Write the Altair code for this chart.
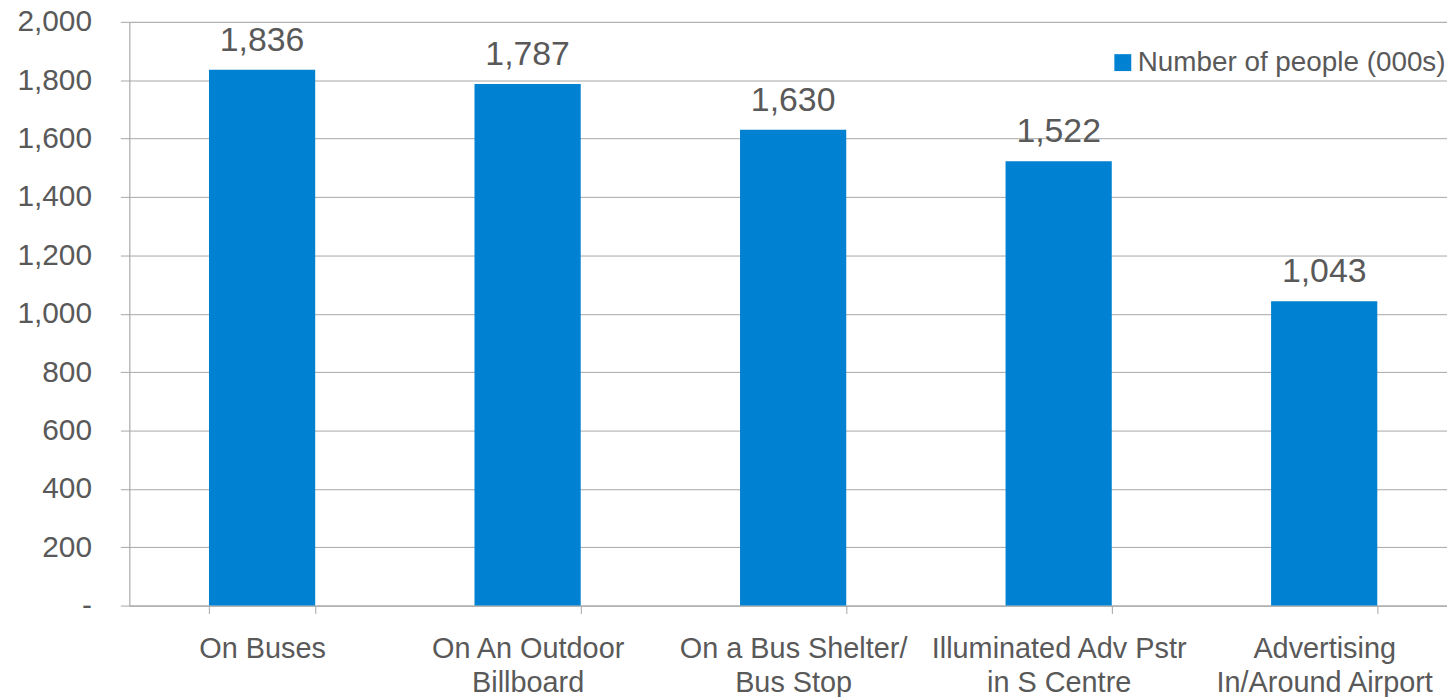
import altair as alt
import pandas as pd

categories = [
    "On Buses",
    "On An Outdoor\nBillboard",
    "On a Bus Shelter/\nBus Stop",
    "Illuminated Adv Pstr\nin S Centre",
    "Advertising\nIn/Around Airport",
]
values = [1836, 1787, 1630, 1522, 1043]
series_name = "Number of people (000s)"
y_ticks = [0, 200, 400, 600, 800, 1000, 1200, 1400, 1600, 1800, 2000]

df = pd.DataFrame({"category": categories, "value": values, "series": [series_name] * len(values)})

FONT = "Liberation Sans"
TXT = "#595959"
GRID = "#A6A6A6"
BLUE = "#0081D1"

x_scale = alt.Scale(paddingInner=0.6, paddingOuter=0.3)

x_enc = alt.X(
    "category:N",
    sort=None,
    title=None,
    scale=x_scale,
    axis=alt.Axis(
        labelAngle=0,
        labelExpr="split(datum.label, '\\n')",
        labelFont=FONT,
        labelFontSize=29,
        labelColor=TXT,
        labelLineHeight=34,
        labelPadding=21,
        labelBaseline="top",
        tickBand="extent",
        tickSize=8,
        tickColor=GRID,
        domainColor=GRID,
        grid=False,
        labelLimit=400,
    ),
)

y_enc = alt.Y(
    "value:Q",
    title=None,
    scale=alt.Scale(domain=[0, 2000], nice=False),
    axis=alt.Axis(
        values=y_ticks,
        labelExpr="datum.value == 0 ? '-\u00a0\u00a0' : format(datum.value, ',')",
        labelFont=FONT,
        labelFontSize=30,
        labelColor=TXT,
        labelPadding=29,
        tickSize=9,
        tickColor=GRID,
        domainColor=GRID,
        gridColor=GRID,
        grid=True,
    ),
)

bars = alt.Chart(df).mark_bar().encode(
    x=x_enc,
    y=y_enc,
    color=alt.Color(
        "series:N",
        scale=alt.Scale(range=[BLUE]),
        legend=alt.Legend(
            title=None,
            orient="none",
            legendX=985,
            legendY=27,
            symbolType="square",
            symbolSize=289,
            symbolStrokeWidth=0,
            labelFont=FONT,
            labelFontSize=28,
            labelColor=TXT,
            labelOffset=1,
            padding=0,
            labelLimit=400,
        ),
    ),
)

labels = alt.Chart(df).mark_text(
    dy=-19, baseline="alphabetic", font=FONT, fontSize=34, color=TXT
).encode(
    x=alt.X("category:N", sort=None, scale=x_scale),
    y="value:Q",
    text=alt.Text("value:Q", format=","),
)

chart = (
    (bars + labels)
    .properties(
        width=1335,
        height=587,
        autosize=alt.AutoSizeParams(type="none"),
        padding={"left": 122, "top": 12, "right": -10, "bottom": 90},
    )
    .configure_view(stroke=None)
    .configure(background="white")
)

chart.save("out.html", embed_options={"renderer": "svg", "actions": False})
